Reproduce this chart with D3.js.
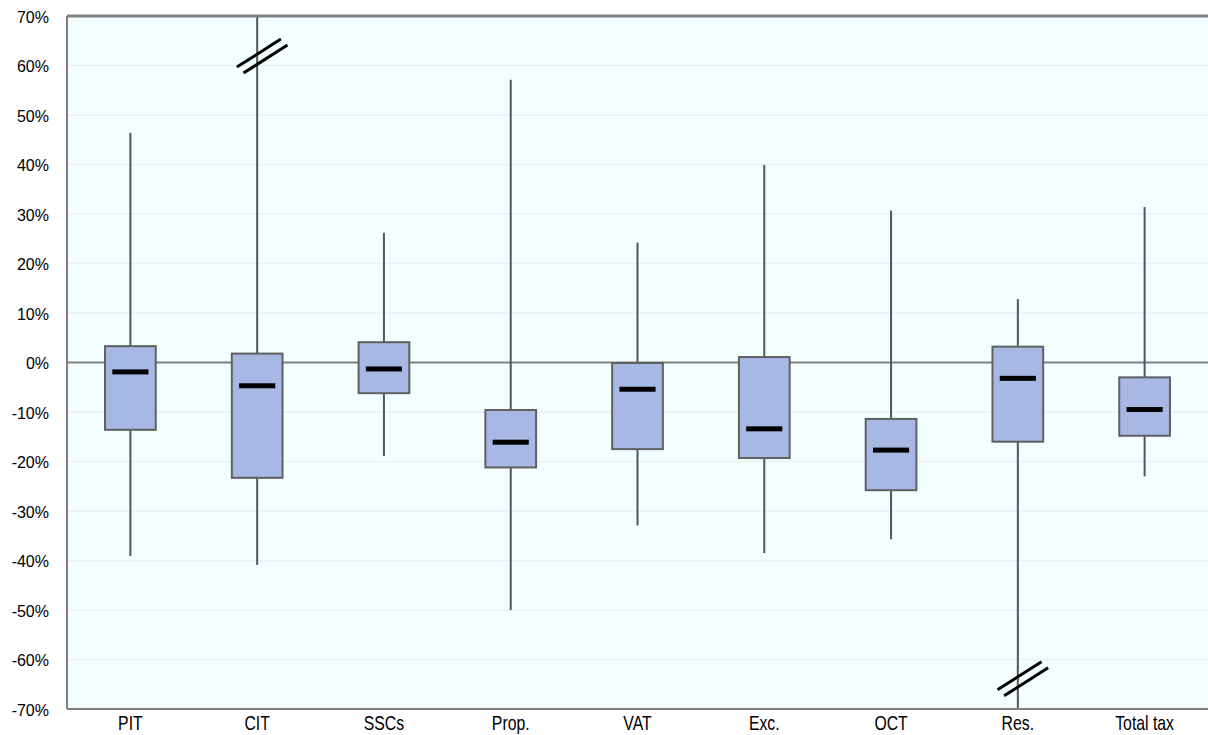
<!DOCTYPE html>
<html><head><meta charset="utf-8">
<script src="https://cdn.jsdelivr.net/npm/d3@7"></script>
<style>
html,body{margin:0;padding:0;background:#fff;}
svg{display:block;font-family:"Liberation Sans",Arial,sans-serif;}
</style></head>
<body>
<svg id="c" width="1208" height="735"></svg>
<script>
const categories = ["PIT","CIT","SSCs","Prop.","VAT","Exc.","OCT","Res.","Total tax"];
const whiskerHigh = [46.4, 80, 26.2, 57.1, 24.2, 39.9, 30.7, 12.8, 31.4];
const boxTop      = [3.3, 1.8, 4.1, -9.6, -0.1, 1.1, -11.4, 3.2, -3.0];
const median      = [-1.9, -4.7, -1.3, -16.1, -5.4, -13.4, -17.7, -3.2, -9.5];
const boxBottom   = [-13.6, -23.3, -6.2, -21.2, -17.5, -19.3, -25.8, -16.0, -14.8];
const whiskerLow  = [-39.1, -40.9, -18.9, -50.0, -32.9, -38.5, -35.7, -80, -23.0];
const breaks = [{cat:"CIT", value:61.9}, {cat:"Res.", value:-63.9}];
const yTicks = [70,60,50,40,30,20,10,0,-10,-20,-30,-40,-50,-60,-70];

const svg = d3.select("#c");
const L=67, R=1208, T=16, B=709;
const x = d3.scaleBand().domain(categories).range([L,R]).padding(0);
const y = d3.scaleLinear().domain([-70,70]).range([B,T]);
const clamp = v => Math.max(-70, Math.min(70, v));

svg.append("rect").attr("x",L).attr("y",T).attr("width",R-L).attr("height",B-T).attr("fill","#f3ffff");

// gridlines
svg.append("g").selectAll("line").data(yTicks.filter(d=>d!==0 && Math.abs(d)!==70)).join("line")
  .attr("x1",L).attr("x2",R).attr("y1",d=>y(d)).attr("y2",d=>y(d))
  .attr("stroke","#eeeeee").attr("stroke-width",1.5);

// y axis labels
const yAxis = d3.axisLeft(y).tickValues(yTicks).tickFormat(d=>d+"%").tickSize(0).tickPadding(0);
const ya = svg.append("g").attr("transform",`translate(49,1)`).call(yAxis);
ya.select(".domain").remove();
ya.selectAll("text").attr("font-size",16).attr("fill","#000").attr("font-family","'Liberation Sans',Arial,sans-serif");

// x axis labels
const xAxis = d3.axisBottom(x).tickSize(0).tickPadding(0);
const xa = svg.append("g").attr("transform",`translate(0,${B})`).call(xAxis);
xa.select(".domain").remove();
xa.selectAll("text")
  .attr("font-size",20).attr("fill","#000").attr("font-family","'Liberation Sans',Arial,sans-serif")
  .attr("dy",null).attr("y",21.5)
  .attr("transform","scale(0.79,1)");

// zero line
svg.append("line").attr("x1",L).attr("x2",R).attr("y1",y(0)).attr("y2",y(0))
  .attr("stroke","#808080").attr("stroke-width",2);

const data = categories.map((c,i)=>({c, hi:whiskerHigh[i], q3:boxTop[i], med:median[i], q1:boxBottom[i], lo:whiskerLow[i]}));
const cx = c => x(c) + x.bandwidth()/2;
const bw = x.bandwidth()*0.4;
const mw = x.bandwidth()*0.285;

const g = svg.append("g");
// whiskers
g.selectAll(".wh").data(data).join("line").attr("class","wh")
  .attr("x1",d=>cx(d.c)).attr("x2",d=>cx(d.c))
  .attr("y1",d=>y(clamp(d.hi))).attr("y2",d=>y(clamp(d.q3)))
  .attr("stroke","#555").attr("stroke-width",2);
g.selectAll(".wl").data(data).join("line").attr("class","wl")
  .attr("x1",d=>cx(d.c)).attr("x2",d=>cx(d.c))
  .attr("y1",d=>y(clamp(d.q1))).attr("y2",d=>y(clamp(d.lo)))
  .attr("stroke","#555").attr("stroke-width",2);
// boxes
g.selectAll(".box").data(data).join("rect").attr("class","box")
  .attr("x",d=>cx(d.c)-bw/2).attr("width",bw)
  .attr("y",d=>y(d.q3)).attr("height",d=>y(d.q1)-y(d.q3))
  .attr("fill","#a8b8e4").attr("stroke","#606060").attr("stroke-width",2);
// medians
g.selectAll(".med").data(data).join("rect").attr("class","med")
  .attr("x",d=>cx(d.c)-mw/2).attr("width",mw)
  .attr("y",d=>y(d.med)-2.5).attr("height",5)
  .attr("fill","#000");

// break marks
const bk = svg.append("g");
breaks.forEach(b=>{
  const bx = cx(b.cat)+5, by = y(b.value);
  [-1,1].forEach(s=>{
    const ox = s*3.3, oy = s*3;
    bk.append("line")
      .attr("x1",bx+ox-22).attr("y1",by+oy+14)
      .attr("x2",bx+ox+22).attr("y2",by+oy-14)
      .attr("stroke","#000").attr("stroke-width",3);
  });
});

// plot border (left, top, bottom)
svg.append("line").attr("x1",L).attr("x2",R).attr("y1",T).attr("y2",T).attr("stroke","#808080").attr("stroke-width",3);
svg.append("line").attr("x1",L).attr("x2",R).attr("y1",B).attr("y2",B).attr("stroke","#808080").attr("stroke-width",2);
svg.append("line").attr("x1",L).attr("x2",L).attr("y1",T).attr("y2",B).attr("stroke","#808080").attr("stroke-width",2);
</script>
</body></html>
